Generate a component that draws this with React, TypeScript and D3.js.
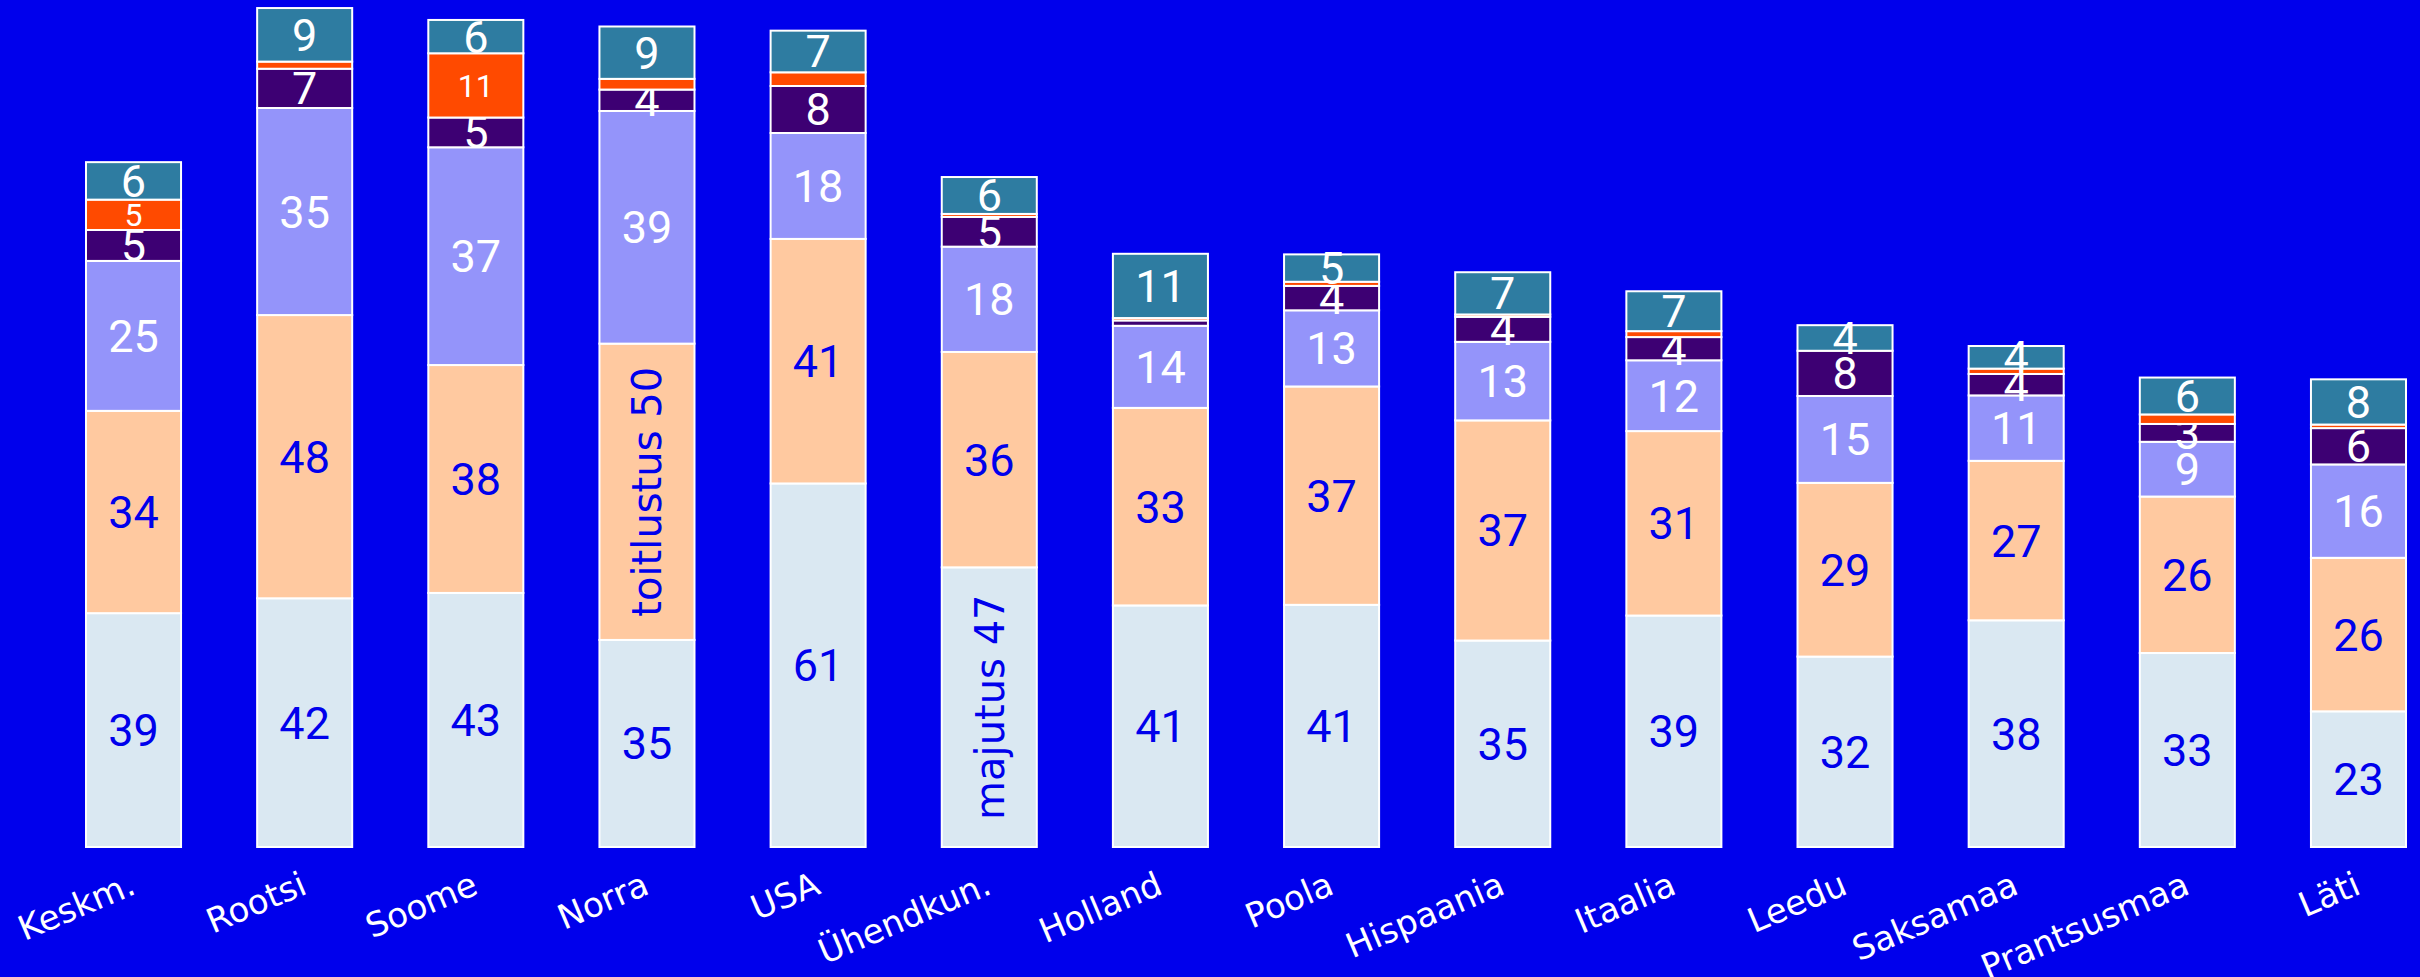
import React from "react";
import * as d3 from "d3";

const categories = ["Keskm.", "Rootsi", "Soome", "Norra", "USA", "Ühendkun.", "Holland", "Poola", "Hispaania", "Itaalia", "Leedu", "Saksamaa", "Prantsusmaa", "Läti"];

const majutus = [39.3, 41.8, 42.7, 34.8, 61.1, 47.0, 40.6, 40.7, 34.7, 38.9, 32.0, 38.1, 32.6, 22.8];
const toitlustus = [34.0, 47.6, 38.3, 49.8, 41.1, 36.2, 33.2, 36.7, 37.0, 31.0, 29.2, 26.8, 26.3, 25.8];
const seeria3 = [25.2, 34.8, 36.6, 39.1, 17.8, 17.7, 13.8, 12.8, 13.2, 11.9, 14.6, 11.0, 9.2, 15.7];
const seeria4 = [5.2, 6.6, 5.0, 3.6, 7.9, 5.0, 0.9, 4.1, 4.2, 3.9, 7.6, 3.6, 3.0, 6.1];
const seeria5 = [5.1, 1.2, 10.8, 1.8, 2.3, 0.5, 0.4, 0.7, 0.4, 1.0, 0, 0.9, 1.6, 0.6];
const seeria6 = [6.3, 9.0, 5.6, 8.8, 7.0, 6.2, 10.8, 4.6, 7.1, 6.7, 4.3, 3.8, 6.2, 7.6];

const seriesKeys = ["majutus", "toitlustus", "seeria3", "seeria4", "seeria5", "seeria6"];
const seriesValues = [majutus, toitlustus, seeria3, seeria4, seeria5, seeria6];

const namedLabels = [
  { key: "majutus", category: "Ühendkun." },
  { key: "toitlustus", category: "Norra" },
];

const BLUE = "#0000EC";
const seriesColors = ["#DAE8F2", "#FFC9A0", "#9494FA", "#3D0073", "#FF4A00", "#2E7CA1"];
const labelColors = [BLUE, BLUE, "#FFFFFF", "#FFFFFF", "#FFFFFF", "#FFFFFF"];
const labelSizes = [45, 45, 45, 45, 32, 45];

export default function App() {
  const W = 2420;
  const H = 977;
  const bottom = 847;
  const unit = 5.95;

  const x = d3.scaleBand<string>().domain(categories).range([86, 2406]).paddingInner(0.4447).paddingOuter(0);
  const y = d3.scaleLinear().domain([0, 140]).range([bottom, bottom - 140 * unit]);

  const rows = categories.map((c, i) => {
    const r: any = { category: c };
    seriesKeys.forEach((k, j) => (r[k] = seriesValues[j][i]));
    return r;
  });
  const stacked = d3.stack<any>().keys(seriesKeys)(rows);
  const bw = x.bandwidth();

  return (
    <svg width={W} height={H} style={{ position: "absolute", left: 0, top: 0, display: "block" }}>
      <rect x={0} y={0} width={W} height={H} fill={BLUE} />
      {stacked.map((s, si) => (
        <g key={s.key}>
          {s.map((d, i) => {
            const cat = categories[i];
            const v = seriesValues[si][i];
            if (v <= 0) return null;
            const x0 = x(cat)!;
            const y0 = y(d[1]);
            const h = y(d[0]) - y(d[1]);
            const cx = x0 + bw / 2;
            const cy = y0 + h / 2;
            const named = namedLabels.find((n) => n.key === s.key && n.category === cat);
            return (
              <g key={cat}>
                <rect x={x0} y={y0} width={bw} height={h} fill={seriesColors[si]} stroke="#FFFFFF" strokeWidth={2} />
                {named ? (
                  <text
                    transform={`translate(${cx},${cy}) rotate(-90)`}
                    textAnchor="middle"
                    dy="0.36em"
                    fontFamily="DejaVu Sans"
                    fontSize={40}
                    fill={labelColors[si]}
                  >
                    {`${s.key} ${Math.round(v)}`}
                  </text>
                ) : v >= 2.5 ? (
                  <text
                    x={cx}
                    y={cy}
                    dy="0.355em"
                    textAnchor="middle"
                    fontFamily="Roboto"
                    fontSize={labelSizes[si]}
                    fill={labelColors[si]}
                  >
                    {Math.round(v)}
                  </text>
                ) : null}
              </g>
            );
          })}
        </g>
      ))}
      {categories.map((c) => (
        <text
          key={c}
          transform={`translate(${x(c)! + bw / 2 + 4},893) rotate(-23)`}
          textAnchor="end"
          fontFamily="DejaVu Sans"
          fontSize={34}
          fill="#FFFFFF"
        >
          {c}
        </text>
      ))}
    </svg>
  );
}
